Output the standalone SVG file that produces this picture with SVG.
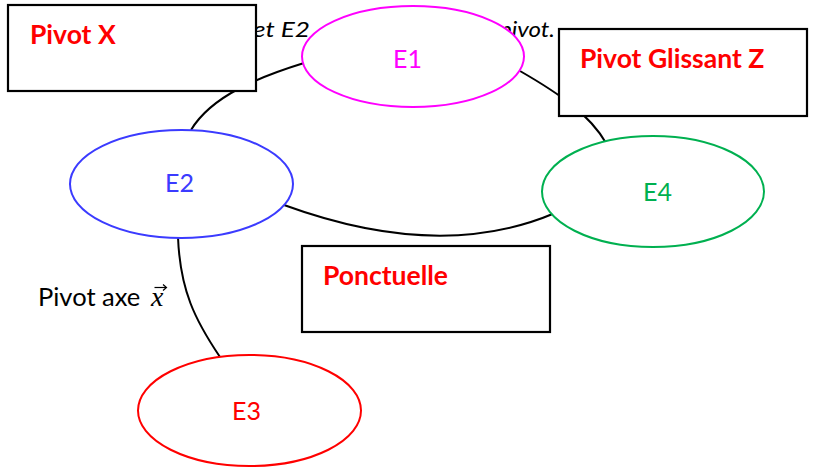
<svg xmlns="http://www.w3.org/2000/svg" width="817" height="468" viewBox="0 0 817 468">
<style>
.conn{fill:none;stroke:#000;stroke-width:2}
.box{fill:#fff;stroke:#000;stroke-width:2.2}
.lbl{font-family:Lato,"Open Sans",sans-serif;font-weight:bold;font-size:26.5px;fill:#FF0000}
.ell{fill:#fff;stroke-width:2}
.et{font-family:Lato,"Open Sans",sans-serif;font-size:25px;text-anchor:middle}
.note{font-family:Lato,"Open Sans",sans-serif;font-style:italic;font-size:21px;fill:#000}
</style>
<rect width="817" height="468" fill="#fff"/>
<g id="top-note">
<text class="note" x="253" y="37" textLength="57" lengthAdjust="spacingAndGlyphs">et E2</text>
<text class="note" x="499" y="37" textLength="56" lengthAdjust="spacingAndGlyphs">pivot.</text>
</g>
<g id="connectors">
<path class="conn" d="M304,63 C262,76 212,95 191,130"/>
<path class="conn" d="M520,71 C560,94 590,115 606,143"/>
<path class="conn" d="M284,205 Q440,262 555,213"/>
<path class="conn" d="M178,237 C180,290 195,320 220,357"/>
</g>
<g id="E1">
<ellipse class="ell" cx="413" cy="56.5" rx="111" ry="50.5" stroke="#FF00FF"/>
<text class="et" x="407.5" y="68" fill="#FF00FF">E1</text>
</g>
<g id="E2">
<ellipse class="ell" cx="181.5" cy="184" rx="111.5" ry="54" stroke="#3B3BFF"/>
<text class="et" x="179.5" y="192" fill="#3B3BFF">E2</text>
</g>
<g id="E4">
<ellipse class="ell" cx="653" cy="191.5" rx="111" ry="55.5" stroke="#00B050"/>
<text class="et" x="657.5" y="201" fill="#00B050">E4</text>
</g>
<g id="E3">
<ellipse class="ell" cx="249.5" cy="410.5" rx="111.5" ry="55.5" stroke="#FF0000"/>
<text class="et" x="246.5" y="420" fill="#FF0000">E3</text>
</g>
<g id="pivot-x">
<rect class="box" x="8" y="5" width="248" height="86"/>
<text class="lbl" x="30" y="44">Pivot X</text>
</g>
<g id="pivot-glissant-z">
<rect class="box" x="559" y="29" width="248" height="87"/>
<text class="lbl" x="580" y="68">Pivot Glissant Z</text>
</g>
<g id="ponctuelle">
<rect class="box" x="302" y="246" width="248" height="86"/>
<text class="lbl" x="323" y="285">Ponctuelle</text>
</g>
<g id="pivot-axe-label">
<text x="38" y="306" font-family="Lato,'Open Sans',sans-serif" font-size="25.5" fill="#000">Pivot axe</text>
<text x="151" y="306" font-family="'Liberation Serif',serif" font-style="italic" font-size="28" fill="#000">x</text>
<path d="M154.5,287.5 H166" fill="none" stroke="#000" stroke-width="1.2"/>
<path d="M163,284.5 L166.5,287.5 L163,290.5" fill="none" stroke="#000" stroke-width="1.2"/>
</g>
</svg>
